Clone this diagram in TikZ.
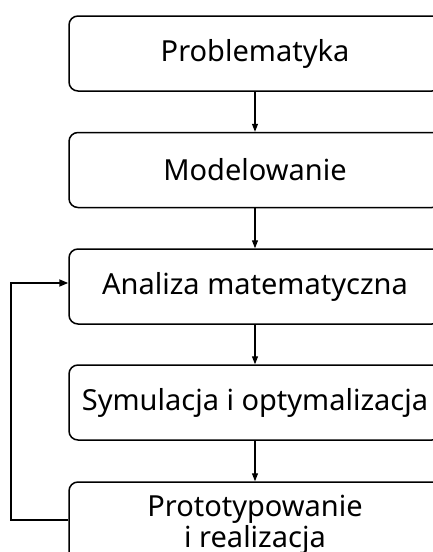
\documentclass[tikz,border=0pt]{standalone}
\usepackage{fontspec}
\setmainfont{Noto Sans}
\usetikzlibrary{arrows.meta}
\begin{document}
\begin{tikzpicture}[x=1pt,y=-1pt,
  stage/.style={draw, line width=1.5pt, rounded corners=9pt,
    minimum width=372pt, minimum height=75pt, inner sep=0pt,
    align=center, font=\fontsize{29}{31}\selectfont},
  flow/.style={line width=1.2pt, -{Triangle[length=8pt,width=6pt]}},
  back/.style={line width=1.8pt, -{Triangle[length=9pt,width=7pt]}}]
\useasboundingbox (0,0) rectangle (433,552);
\node[stage] (p1) at (255,53.5) {Problematyka};
\node[stage] (p2) at (255,170) {Modelowanie};
\node[stage] (p3) at (255,286.5) {Analiza matematyczna};
\node[stage] (p4) at (255,402.5) {Symulacja i optymalizacja};
\node[stage, minimum height=86pt] (p5) at (255,525) {Prototypowanie\\i realizacja};
\draw[flow] (p1) -- (p2);
\draw[flow] (p2) -- (p3);
\draw[flow] (p3) -- (p4);
\draw[flow] (p4) -- (p5);
\draw[back] ([yshift=5pt]p5.west) -- ++(-57,0) |- ([yshift=3.5pt]p3.west);
\end{tikzpicture}
\end{document}
